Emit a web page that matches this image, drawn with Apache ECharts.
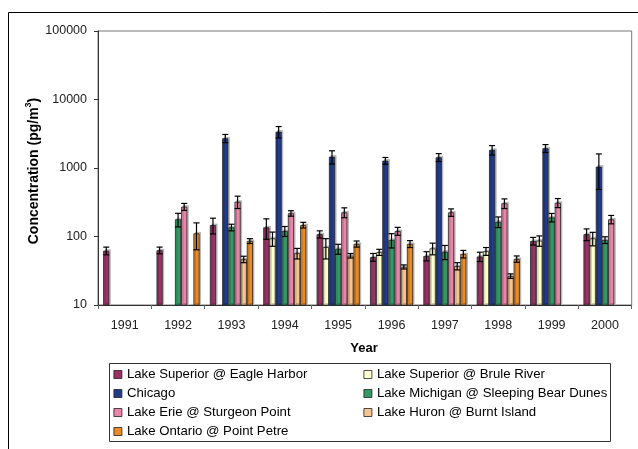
<!DOCTYPE html>
<html>
<head>
<meta charset="utf-8">
<script src="https://cdn.jsdelivr.net/npm/echarts@6/dist/echarts.min.js"></script>
<style>
html,body{margin:0;padding:0;background:#fff;}
#c{width:638px;height:449px;}
</style>
</head>
<body>
<div id="c"></div>
<script>
// ---- data ----
var years = ['1991','1992','1993','1994','1995','1996','1997','1998','1999','2000'];
var yTicks = [10, 100, 1000, 10000, 100000];
var seriesNames = [
  'Lake Superior @ Eagle Harbor',
  'Lake Superior @ Brule River',
  'Chicago',
  'Lake Michigan @ Sleeping Bear Dunes',
  'Lake Erie @ Sturgeon Point',
  'Lake Huron @ Burnt Island',
  'Lake Ontario @ Point Petre'
];
var eagleHarbor = [62, 63, 147, 136, 108, 50, 52, 51, 86, 108];
var eagleHarborErr = [8, 7, 38, 45, 13, 6.5, 8, 8, 11, 21];
var bruleRiver = [null, null, null, 94, 70, 59, 67, 61, 87, 94];
var bruleRiverErr = [null, null, null, 22, 23, 6, 13, 8, 15, 21];
var chicago = [null, null, 2717, 3388, 1462, 1279, 1432, 1834, 1941, 1045];
var chicagoErr = [null, null, 370, 640, 320, 145, 190, 290, 255, 560];
var michigan = [null, 178, 136, 120, 66, 89, 60, 164, 190, 89];
var michiganErr = [null, 40, 15, 20, 11, 21, 14, 29, 27, 10];
var erie = [null, 272, 322, 218, 225, 120, 225, 305, 311, 178];
var erieErr = [null, 32, 66, 20, 37, 16, 28, 49, 47, 25];
var huron = [null, null, 46.5, 57, 52.5, 36, 37, 26.5, null, null];
var huronErr = [null, null, 5, 10, 4, 2.5, 4.5, 2, null, null];
var ontario = [null, 111, 86, 147, 78, 78, 55.6, 47, null, null];
var ontarioErr = [null, 47, 7, 14, 8, 9, 7, 5, null, null];

var values = [eagleHarbor, bruleRiver, chicago, michigan, erie, huron, ontario];
var errors = [eagleHarborErr, bruleRiverErr, chicagoErr, michiganErr, erieErr, huronErr, ontarioErr];
var colors = ['#993366', '#FFFFCC', '#213B87', '#339966', '#E885A8', '#F7C38E', '#EA8A26'];

// ---- build ----
var BW = 6.15;
var FONT = 'Liberation Sans, Arial, sans-serif';
var series = [];
values.forEach(function (vals, s) {
  series.push({
    name: seriesNames[s],
    type: 'bar',
    data: vals,
    barWidth: BW,
    barGap: '0%',
    itemStyle: {
      color: colors[s],
      borderColor: '#222',
      borderWidth: 0.8,
      shadowColor: 'rgba(0,0,0,0.22)',
      shadowOffsetX: 1.5,
      shadowOffsetY: -1.5,
      shadowBlur: 0
    },
    emphasis: {disabled: true},
    animation: false
  });
});
var errData = [];
errors.forEach(function (errs, s) {
  errs.forEach(function (e, i) {
    var v = values[s][i];
    if (v != null && e != null) errData.push([i, v - e, v + e, s]);
  });
});
series.push({
  type: 'custom',
  data: errData,
  z: 10,
  animation: false,
  silent: true,
  encode: {x: 0, y: [1, 2]},
  renderItem: function (params, api) {
    var ci = api.value(0), lo = api.value(1), hi = api.value(2), s = api.value(3);
    var pHi = api.coord([ci, hi]);
    var pLo = api.coord([ci, lo]);
    var x = pHi[0] + (s - 3) * BW;
    var cap = 3;
    var st = {stroke: '#000', lineWidth: 1.2};
    return {
      type: 'group',
      children: [
        {type: 'line', shape: {x1: x, y1: pHi[1], x2: x, y2: pLo[1]}, style: st},
        {type: 'line', shape: {x1: x - cap, y1: pHi[1], x2: x + cap, y2: pHi[1]}, style: st},
        {type: 'line', shape: {x1: x - cap, y1: pLo[1], x2: x + cap, y2: pLo[1]}, style: st}
      ]
    };
  }
});

var legendCommon = {
  orient: 'vertical',
  icon: 'rect',
  itemWidth: 8,
  itemHeight: 8,
  itemGap: 5,
  padding: 0,
  selectedMode: false,
  textStyle: {fontFamily: FONT, fontSize: 13.2, color: '#000', lineHeight: 14, padding: [0, 0, 0, 0]},
  itemStyle: {borderColor: '#222', borderWidth: 0.8, shadowOffsetX: 0, shadowOffsetY: 0, shadowColor: 'transparent'}
};

var chart = echarts.init(document.getElementById('c'), null, {renderer: 'canvas'});
chart.setOption({
  backgroundColor: '#fff',
  animation: false,
  textStyle: {fontFamily: FONT},
  grid: {left: 98, right: 6.3, top: 31, bottom: 144, show: true, borderColor: '#777', borderWidth: 1},
  legend: [
    Object.assign({}, legendCommon, {left: 113.5, top: 367.5, data: [seriesNames[0], seriesNames[2], seriesNames[4], seriesNames[6]]}),
    Object.assign({}, legendCommon, {left: 363.5, top: 367.5, data: [seriesNames[1], seriesNames[3], seriesNames[5]]})
  ],
  xAxis: {
    type: 'category',
    data: years,
    axisLine: {lineStyle: {color: '#333', width: 1}},
    axisTick: {show: true, length: 4, lineStyle: {color: '#666'}, interval: 0},
    axisLabel: {fontSize: 12.5, color: '#222', margin: 14, fontFamily: FONT},
    splitLine: {show: false}
  },
  yAxis: {
    type: 'log',
    logBase: 10,
    min: yTicks[0],
    max: yTicks[yTicks.length - 1],
    axisLine: {show: true, lineStyle: {color: '#333', width: 1}},
    axisTick: {show: true, length: 4, lineStyle: {color: '#333'}},
    axisLabel: {fontSize: 12.5, color: '#222', margin: 11, fontFamily: FONT,
      formatter: function (v) { return String(Math.round(v)); }},
    splitLine: {show: false}
  },
  graphic: [
    {type: 'line', shape: {x1: 8.5, y1: 12.5, x2: 8.5, y2: 449}, style: {stroke: '#000', lineWidth: 1}},
    {type: 'line', shape: {x1: 8.5, y1: 12.5, x2: 638, y2: 12.5}, style: {stroke: '#000', lineWidth: 1}},
    {type: 'rect', shape: {x: 109.5, y: 363.5, width: 501, height: 78}, style: {fill: 'none', stroke: '#333', lineWidth: 1}},
    {type: 'text', x: 364, y: 348, style: {text: 'Year', font: 'bold 13px ' + FONT, fill: '#000', align: 'center', verticalAlign: 'middle'}},
    {type: 'text', x: 33, y: 171, rotation: Math.PI / 2,
      style: {
        text: '{a|Concentration (pg/m}{s|3}{a|)}',
        align: 'center', verticalAlign: 'middle',
        rich: {
          a: {font: 'bold 14px ' + FONT, fill: '#000', verticalAlign: 'bottom', lineHeight: 17},
          s: {font: 'bold 9px ' + FONT, fill: '#000', verticalAlign: 'top', lineHeight: 17, padding: [0, 0, 6, 0]}
        }
      }
    }
  ],
  series: series
});
</script>
</body>
</html>
